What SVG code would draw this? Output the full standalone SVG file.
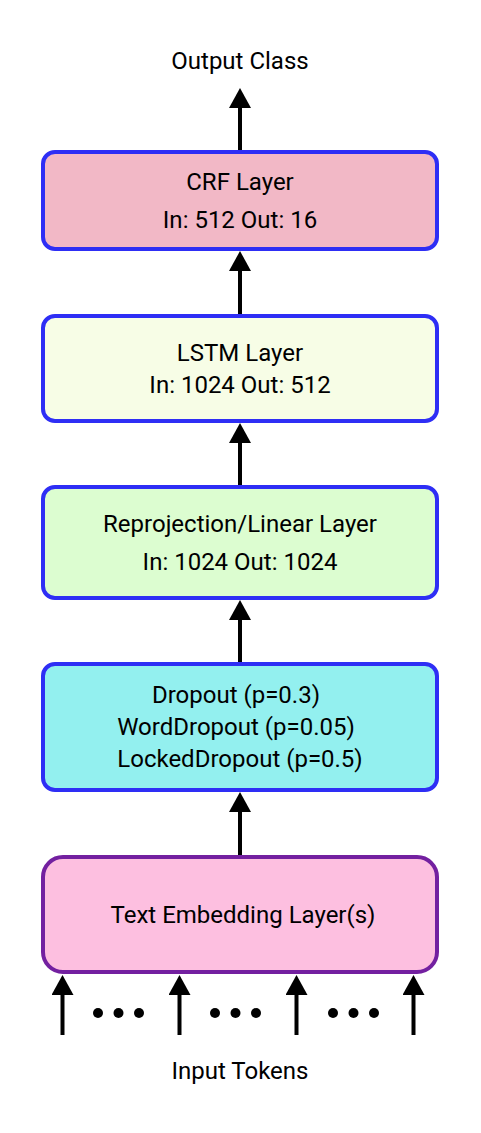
<svg xmlns="http://www.w3.org/2000/svg" width="481" height="1133" viewBox="0 0 481 1133">
<defs>
<marker id="ah" viewBox="0 0 20 22" refX="0" refY="11" markerWidth="20" markerHeight="22" markerUnits="userSpaceOnUse" orient="auto">
<path d="M0,0 L20,11 L0,22 Z" fill="#000"/>
</marker>
<style>
text{font-family:Roboto,"Liberation Sans",sans-serif;font-size:24px;fill:#000;text-anchor:middle}
.box{stroke:#2e2ef5;stroke-width:4}
.conn line{stroke:#000;stroke-width:4}
</style>
</defs>
<rect width="481" height="1133" fill="#fff"/>
<text x="240" y="69">Output Class</text>
<text x="240" y="1079">Input Tokens</text>
<g id="crf">
<rect class="box" x="43" y="152" width="394" height="97" rx="12" fill="#f2b8c6"/>
<text x="240" y="190">CRF Layer</text>
<text x="240" y="228">In: 512 Out: 16</text>
</g>
<g id="lstm">
<rect class="box" x="43" y="316" width="394" height="105" rx="12" fill="#f7fde6"/>
<text x="240" y="361">LSTM Layer</text>
<text x="240" y="393">In: 1024 Out: 512</text>
</g>
<g id="reproj">
<rect class="box" x="43" y="487" width="394" height="111" rx="12" fill="#dcfdd0"/>
<text x="240" y="532">Reprojection/Linear Layer</text>
<text x="240" y="570">In: 1024 Out: 1024</text>
</g>
<g id="dropout">
<rect class="box" x="43" y="664" width="394" height="126" rx="12" fill="#93f0ef"/>
<text x="236" y="703">Dropout (p=0.3)</text>
<text x="236" y="735">WordDropout (p=0.05)</text>
<text x="240" y="767">LockedDropout (p=0.5)</text>
</g>
<g id="embed">
<rect x="43" y="857" width="394" height="115" rx="20" fill="#fdbfe0" stroke="#7320a0" stroke-width="4"/>
<text x="243" y="923">Text Embedding Layer(s)</text>
</g>
<g class="conn">
<line x1="240" y1="150" x2="240" y2="108" marker-end="url(#ah)"/>
<line x1="240" y1="314" x2="240" y2="271" marker-end="url(#ah)"/>
<line x1="240" y1="485" x2="240" y2="443" marker-end="url(#ah)"/>
<line x1="240" y1="662" x2="240" y2="620" marker-end="url(#ah)"/>
<line x1="240" y1="855" x2="240" y2="812" marker-end="url(#ah)"/>
<line x1="62.5" y1="1035" x2="62.5" y2="995" marker-end="url(#ah)"/>
<line x1="179.5" y1="1035" x2="179.5" y2="995" marker-end="url(#ah)"/>
<line x1="296.5" y1="1035" x2="296.5" y2="995" marker-end="url(#ah)"/>
<line x1="413.5" y1="1035" x2="413.5" y2="995" marker-end="url(#ah)"/>
</g>
<g id="dots" fill="#000">
<circle cx="98" cy="1013" r="5"/><circle cx="118.5" cy="1013" r="5"/><circle cx="139" cy="1013" r="5"/>
<circle cx="215" cy="1013" r="5"/><circle cx="235.5" cy="1013" r="5"/><circle cx="256" cy="1013" r="5"/>
<circle cx="333" cy="1013" r="5"/><circle cx="353.5" cy="1013" r="5"/><circle cx="374" cy="1013" r="5"/>
</g>
</svg>
